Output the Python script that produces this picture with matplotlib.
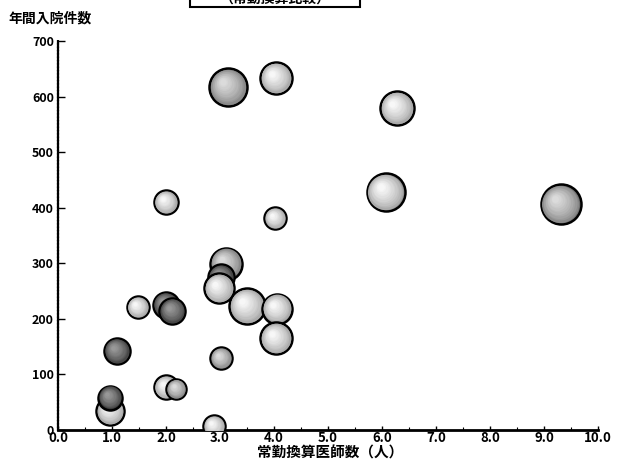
import numpy as np
import matplotlib
matplotlib.use("Agg")
import matplotlib.pyplot as plt
from matplotlib.transforms import offset_copy
from matplotlib.patches import Rectangle

plt.rcParams['font.family'] = ['Noto Sans CJK JP', 'DejaVu Sans']
plt.rcParams['font.weight'] = 'bold'

# ---- data ----
doctors = [3.15, 4.04, 6.28, 6.07, 9.31, 2.00, 4.02, 3.11, 3.02, 2.98, 3.50,
           4.06, 4.04, 1.48, 2.00, 2.12, 1.09, 3.02, 2.00, 2.19, 0.97, 0.97, 2.89]
admissions = [617, 633, 579, 428, 406, 410, 381, 299, 275, 255, 223,
              218, 165, 221, 225, 214, 142, 129, 77, 74, 34, 58, 7]
bubble_value = [361, 256, 289, 361, 400, 144, 121, 256, 169, 225, 324,
                225, 256, 121, 169, 169, 169, 121, 144, 100, 196, 144, 121]
tone = ['mid', 'light', 'light', 'light', 'mid', 'light', 'light', 'mid', 'dark',
        'light', 'light', 'light', 'light', 'light', 'dark', 'dark', 'dark',
        'mid', 'light', 'mid', 'light', 'dark', 'light']

x_ticks = [0, 1, 2, 3, 4, 5, 6, 7, 8, 9, 10]
x_tick_labels = ['0.0', '1.0', '2.0', '3.0', '4.0', '5.0', '6.0', '7.0', '8.0', '9.0', '10.0']
y_ticks = [0, 100, 200, 300, 400, 500, 600, 700]

x_title = '常勤換算医師数（人）'
y_title = '年間入院件数'
box_title = '（常勤換算比較）'

# ---- figure ----
W, H = 622, 463
fig = plt.figure(figsize=(W / 100, H / 100), dpi=100)
ax = fig.add_axes([58 / W, 1 - 430 / H, 540 / W, 389 / H])
ax.set_xlim(0, 10)
ax.set_ylim(0, 700)

tones = {
    'light': ((0.58, 0.58, 0.58), (0.99, 0.99, 0.99)),
    'mid': ((0.45, 0.45, 0.45), (0.88, 0.88, 0.88)),
    'dark': ((0.18, 0.18, 0.18), (0.62, 0.62, 0.62)),
}

px2pt = 0.72
n_layers = 12
for xi, yi, vi, ti in zip(doctors, admissions, bubble_value, tone):
    r_pt = np.sqrt(vi) * px2pt
    c_edge, c_hi = tones[ti]
    ax.scatter([xi], [yi], s=(2 * r_pt) ** 2, color=c_edge,
               edgecolors='black', linewidths=1.8, zorder=3)
    for k in range(1, n_layers):
        t = k / n_layers
        rr = r_pt * (1 - 0.9 * t)
        off = r_pt * 0.3 * t
        tr = offset_copy(ax.transData, fig=fig, x=-off, y=off, units='points')
        col = tuple(np.array(c_edge) + (np.array(c_hi) - np.array(c_edge)) * t ** 0.6)
        ax.scatter([xi], [yi], s=(2 * rr) ** 2, color=col, linewidths=0,
                   transform=tr, zorder=3)

# axes styling
for side in ['top', 'right']:
    ax.spines[side].set_visible(False)
ax.spines['left'].set_linewidth(1.6)
ax.spines['bottom'].set_linewidth(2.0)
ax.spines['left'].set_linestyle((0, (1, 0.5)))

ax.set_xticks(x_ticks)
ax.set_xticklabels(x_tick_labels)
ax.set_yticks(y_ticks)
ax.set_yticklabels([str(v) for v in y_ticks])
ax.set_xticks(np.arange(0.5, 10, 1.0), minor=True)
ax.tick_params(axis='y', direction='in', length=5, width=1, pad=3,
               labelsize=9)
ax.tick_params(axis='x', direction='in', length=3, width=1, pad=1,
               labelsize=9.5)
ax.tick_params(axis='x', which='minor', direction='in', length=2, width=0.8)
for lab in ax.get_xticklabels() + ax.get_yticklabels():
    lab.set_fontweight('bold')

fig.text(8 / W, 1 - 18 / H, y_title, ha='left', va='center',
         fontsize=10, fontweight='bold')
fig.text(330 / W, 1 - 453 / H, x_title, ha='center', va='center',
         fontsize=10.5, fontweight='bold')

# title box cut off at the top of the image
fig.patches.append(Rectangle((190 / W, 1 - 7 / H), 170 / W, 20 / H,
                             transform=fig.transFigure, facecolor='white',
                             edgecolor='black', linewidth=1.5))
fig.text(275 / W, 1 - 3 / H, box_title, ha='center', va='baseline',
         fontsize=10, fontweight='bold')

fig.savefig('out.png', dpi=100)
